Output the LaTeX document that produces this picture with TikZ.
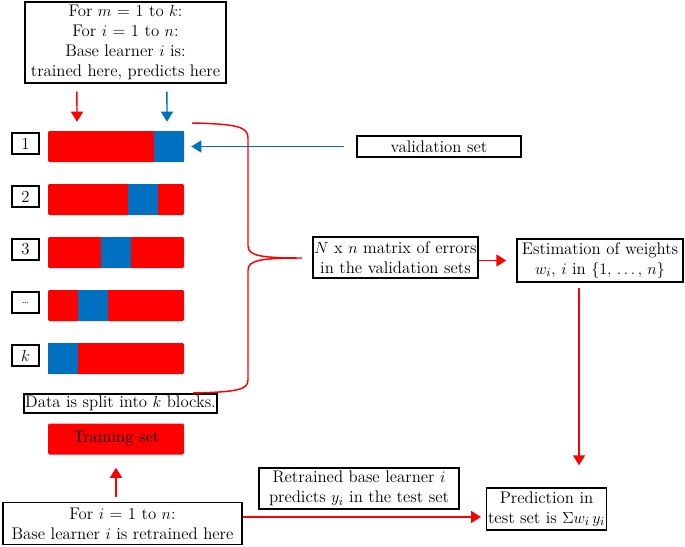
\documentclass[tikz,border=0pt]{standalone}
\usepackage{amsmath}
\usepackage{tikz}
\usetikzlibrary{arrows.meta}
\definecolor{vblue}{RGB}{0,112,192}
\tikzset{
  txtbox/.style={draw, line width=1.1pt, fill=white, align=center, inner sep=1pt,
    font=\fontsize{12.6}{15}\selectfont},
  numbox/.style={draw, line width=1.1pt, minimum width=20.25pt, minimum height=15.75pt,
    inner sep=0pt, font=\fontsize{12.6}{14}\selectfont},
  bar/.style={fill=red, rounded corners=1pt, minimum width=102pt, minimum height=23.25pt, inner sep=0pt},
  redarr/.style={red, line width=1.1pt, -{Triangle[width=9pt,length=7.5pt]}},
  bluearr/.style={vblue, line width=1.1pt, -{Triangle[width=9pt,length=7.5pt]}}
}

\begin{document}
\begin{tikzpicture}[x=0.75pt,y=-0.75pt]
                \useasboundingbox (0,0) rectangle (685,546);
                % folds
                \foreach \n/\lab/\bx in {1/1/154,2/2/128,3/3/101,4/{\scriptsize\ldots}/78,5/$k$/48}{
                  \pgfmathsetmacro\yy{146.5+53*(\n-1)}
                  \node[bar] (bar\n) at (116,\yy) {};
                  \fill[vblue] (\bx,\yy-15.5) rectangle ++(30,31);
                  \node[numbox] (num\n) at (25.5,\yy-3) {\lab};
                }
                \node[txtbox, minimum width=150.75pt, minimum height=60.75pt] (loop) at (125.5,42.5)
                  {For $m$ = 1 to $k$:\\ For $i$ = 1 to $n$:\\ Base learner $i$ is:\\ trained here, predicts here};
                \node[txtbox, minimum width=123pt, minimum height=15.75pt] (valset) at (439,146.5) {validation set};
                \node[txtbox, minimum width=123.75pt, minimum height=30.75pt] (errors) at (395.5,257.5)
                  {$N$ x $n$ matrix of errors\\ in the validation sets};
                \node[txtbox, minimum width=124.5pt, minimum height=32.25pt] (weights) at (600,260.5)
                  {Estimation of weights\\ $w_i$, $i$ in $\{1,\,\ldots,\,n\}$};
                \node[txtbox, minimum width=143.25pt, minimum height=14.25pt] (split) at (120.5,403.5)
                  {Data is split into $k$ blocks.};
                \node[bar, font=\fontsize{12.6}{14}\selectfont] (train) at (116,439) {Training set};
                \node[txtbox, minimum width=179.25pt, minimum height=31.5pt] (retrain) at (122.5,523.5)
                  {For $i$ = 1 to $n$:\\ Base learner $i$ is retrained here};
                \node[txtbox, minimum width=150pt, minimum height=30.75pt] (retrpred) at (359,488.5)
                  {Retrained base learner $i$\\ predicts $y_i$ in the test set};
                \node[txtbox, minimum width=89.25pt, minimum height=31.5pt] (predict) at (546.5,509)
                  {Prediction in\\ test set is $\Sigma w_i\,y_i$};
                % brace over the folds
                \draw[red, line width=1.1pt] (192,123) .. controls (238,124) and (248,127) .. (248,138)
                  -- (248,246) .. controls (248,256) and (262,258) .. (302,258)
                  .. controls (262,258) and (248,260) .. (248,270)
                  -- (248,380) .. controls (248,390) and (236,392) .. (193,393);
                \draw[redarr, shorten <=6pt, shorten >=6.75pt] ([xshift=-36.4pt]loop.south) -- ([xshift=-29.25pt]bar1.north);
                \draw[bluearr, shorten <=6pt, shorten >=6.75pt] ([xshift=31.1pt]loop.south) -- ([xshift=38.25pt]bar1.north);
                \draw[bluearr, shorten <=9pt, shorten >=5.25pt] (valset.west) -- (bar1.east);
                \draw[redarr, shorten >=7.5pt] (errors.east |- weights) -- (weights.west);
                \draw[redarr, shorten <=3.75pt, shorten >=16.5pt] ([xshift=-15.75pt]weights.south) -- ([xshift=-15.75pt]weights.south |- predict.north);
                \draw[redarr, shorten <=3.75pt, shorten >=9.75pt] (retrain.north -| train.south) -- (train.south);
                \draw[redarr, shorten >=3.75pt] ([yshift=4.9pt]retrain.east) -- ([yshift=4.9pt]retrain.east -| predict.west);
            \end{tikzpicture}
\end{document}
